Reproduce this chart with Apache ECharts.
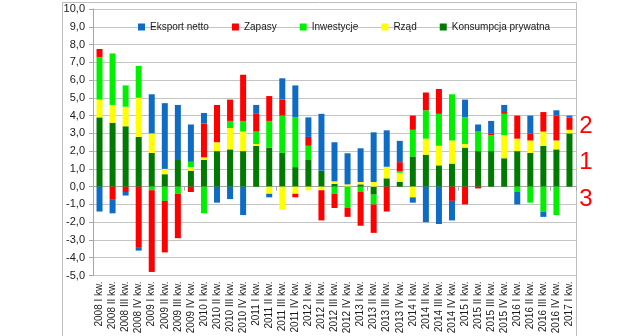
<!DOCTYPE html>
<html>
<head>
<meta charset="utf-8">
<script src="https://cdn.jsdelivr.net/npm/echarts@6/dist/echarts.min.js"></script>
<style>
  html, body { margin: 0; padding: 0; background: #fff; }
  #chart { width: 642px; height: 336px; }
</style>
</head>
<body>
<div id="chart"></div>
<script>
// Quarterly contributions to GDP growth (percentage points)
const categories = [
  '2008 I kw.', '2008 II kw.', '2008 III kw.', '2008 IV kw.',
  '2009 I kw.', '2009 II kw.', '2009 III kw.', '2009 IV kw.',
  '2010 I kw.', '2010 II kw.', '2010 III kw.', '2010 IV kw.',
  '2011 I kw.', '2011 II kw.', '2011 III kw.', '2011 IV kw.',
  '2012 I kw.', '2012 II kw.', '2012 III kw.', '2012 IV kw.',
  '2013 I kw.', '2013 II kw.', '2013 III kw.', '2013 IV kw.',
  '2014 I kw.', '2014 II kw.', '2014 III kw.', '2014 IV kw.',
  '2015 I kw.', '2015 II kw.', '2015 III kw.', '2015 IV kw.',
  '2016 I kw.', '2016 II kw.', '2016 III kw.', '2016 IV kw.',
  '2017 I kw.'
];

const konsumpcja = [3.9, 3.6, 3.4, 2.8, 1.9, 0.7, 1.5, 0.9, 1.5, 2.0, 2.1, 2.0,
  2.3, 2.2, 1.9, 1.1, 1.5, 0.9, 0.15, 0, 0.13, -0.45, 0.47, 0.28,
  1.7, 1.8, 1.2, 1.3, 2.2, 2.0, 2.0, 1.6, 2.0, 1.9, 2.3, 2.1, 3.0];

const rzad = [1.0, 1.0, 1.1, 2.2, 1.1, 0.3, 0, 0.2, 0.15, 0.5, 1.2, 1.1,
  0.1, -0.4, -1.3, -0.4, -0.2, -0.2, 0.15, 0.13, 0.13, 0.26, 0.65, 0.5,
  -0.6, 0.9, 1.1, 1.3, 0.2, 0, 0, 1.3, 0.7, 0.7, 0.8, 0.5, 0.2];

const inwestycje = [2.4, 2.9, 1.2, 1.8, -0.2, -0.8, -0.4, 0.3, -1.5, 0, 0.4, 0.6,
  0.7, 1.5, 2.1, 2.8, 0.8, 0, -0.4, -1.2, -0.3, -0.55, 0, 0.1,
  1.5, 1.6, 1.8, 2.6, 1.5, 1.1, 0.9, 1.2, -0.3, -0.9, -1.4, -1.6, 0];

const zapasy = [0.45, -0.7, -0.3, -3.4, -4.6, -2.9, -2.5, -0.3, 1.9, 2.1, 1.2, 2.6,
  1.0, 1.4, 0.9, -0.2, 0.5, -1.7, -0.8, -0.5, -1.9, -1.6, -1.4, 0.5,
  0.8, 1.0, 1.4, -0.8, -1.0, -0.1, 0.1, 0.1, 1.3, 0.4, 1.1, 1.4, 0.7];

const eksport = [-1.4, -0.8, -0.2, -0.2, 2.2, 3.7, 3.1, 2.1, 0.6, -0.9, -0.7, -1.6,
  0.5, -0.2, 1.2, 1.8, 1.1, 3.2, 2.2, 1.75, 1.9, 2.8, 2.05, 1.2,
  -0.3, -2.0, -2.1, -1.1, 1.0, 0.4, 0.7, 0.4, -0.7, 1.0, -0.3, 0.3, 0.1];

const yTicks = { min: -5, max: 10, step: 1 };

const colors = {
  eksport: '#0F6CC4',
  zapasy: '#FF0000',
  inwestycje: '#00F000',
  rzad: '#FFFF00',
  konsumpcja: '#007A00'
};

const font = '"Liberation Sans", Arial, sans-serif';

function barSeries(name, data, color) {
  return {
    name: name,
    type: 'bar',
    stack: 'pkb',
    data: data,
    barWidth: 6,
    xAxisIndex: 0,
    itemStyle: { color: color },
    emphasis: { disabled: true }
  };
}

const chart = echarts.init(document.getElementById('chart'), null, { renderer: 'canvas' });

chart.setOption({
  animation: false,
  backgroundColor: '#ffffff',
  textStyle: { fontFamily: font },
  grid: {
    left: 93, right: 66, top: 9, bottom: 60.5,
    outerBoundsMode: 'none'
  },
  legend: {
    left: 133, top: 17,
    itemWidth: 7, itemHeight: 7, itemGap: 23,
    icon: 'rect',
    textStyle: { fontFamily: font, fontSize: 10, color: '#1a1a1a' },
    data: ['Eksport netto', 'Zapasy', 'Inwestycje', 'Rząd', 'Konsumpcja prywatna']
  },
  xAxis: [
    {
      type: 'category',
      data: categories,
      boundaryGap: true,
      axisLine: { onZero: true, lineStyle: { color: '#A6A6A6', width: 1 } },
      axisTick: { show: true, inside: false, length: 4, lineStyle: { color: '#A6A6A6' } },
      axisLabel: { show: false },
      splitLine: { show: false }
    },
    {
      type: 'category',
      data: categories,
      position: 'bottom',
      boundaryGap: true,
      axisLine: { show: false, onZero: false },
      axisTick: { show: false },
      splitLine: { show: false },
      axisLabel: {
        rotate: 90,
        interval: 0,
        margin: 6,
        fontFamily: font,
        fontSize: 10,
        color: '#1a1a1a'
      }
    }
  ],
  yAxis: {
    type: 'value',
    min: yTicks.min,
    max: yTicks.max,
    interval: yTicks.step,
    axisLine: { show: true, lineStyle: { color: '#A6A6A6' } },
    axisTick: { show: true, length: 4, lineStyle: { color: '#A6A6A6' } },
    axisLabel: {
      margin: 8,
      fontFamily: font,
      fontSize: 11,
      color: '#1a1a1a',
      formatter: function (v) { return v.toFixed(1).replace('.', ','); }
    },
    splitLine: { show: true, lineStyle: { color: '#C4C4C4', width: 1 } }
  },
  series: [
    barSeries('Konsumpcja prywatna', konsumpcja, colors.konsumpcja),
    barSeries('Rząd', rzad, colors.rzad),
    barSeries('Inwestycje', inwestycje, colors.inwestycje),
    barSeries('Zapasy', zapasy, colors.zapasy),
    barSeries('Eksport netto', eksport, colors.eksport)
  ],
  graphic: [
    {
      type: 'rect',
      silent: true,
      shape: { x: 62.5, y: 2.5, width: 514, height: 340 },
      style: { fill: 'none', stroke: '#BFBFBF', lineWidth: 1 }
    },
    {
      type: 'text', silent: true, x: 586, y: 126,
      style: { text: '2', fill: '#FF0000', font: '24px ' + font, align: 'center', verticalAlign: 'middle' }
    },
    {
      type: 'text', silent: true, x: 586, y: 162,
      style: { text: '1', fill: '#FF0000', font: '24px ' + font, align: 'center', verticalAlign: 'middle' }
    },
    {
      type: 'text', silent: true, x: 586, y: 199,
      style: { text: '3', fill: '#FF0000', font: '24px ' + font, align: 'center', verticalAlign: 'middle' }
    }
  ]
});
</script>
</body>
</html>
